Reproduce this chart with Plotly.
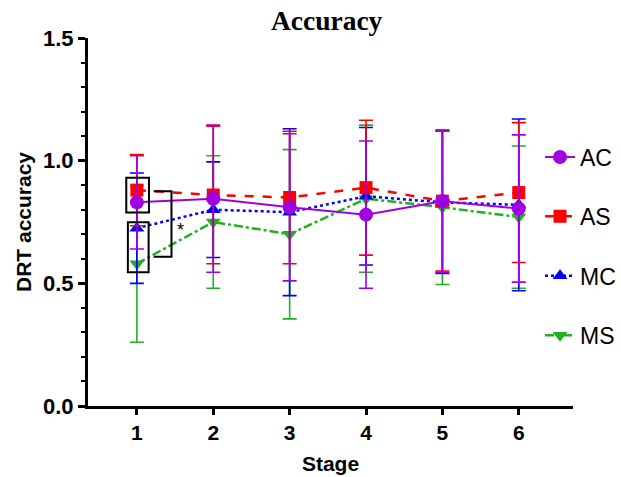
import plotly.graph_objects as go

stages = [1, 2, 3, 4, 5, 6]
series_names = ["AC", "AS", "MC", "MS"]
ac_mean = [0.83, 0.845, 0.81, 0.78, 0.835, 0.805]
ac_sd = [0.19, 0.30, 0.30, 0.30, 0.29, 0.30]
as_mean = [0.88, 0.86, 0.85, 0.89, 0.835, 0.87]
as_sd = [0.145, 0.28, 0.27, 0.275, 0.285, 0.285]
mc_mean = [0.725, 0.80, 0.79, 0.855, 0.83, 0.82]
mc_sd = [0.225, 0.195, 0.34, 0.28, 0.29, 0.35]
ms_mean = [0.58, 0.75, 0.70, 0.845, 0.81, 0.77]
ms_sd = [0.32, 0.27, 0.345, 0.30, 0.315, 0.29]
y_ticks = [0.0, 0.5, 1.0, 1.5]
y_tick_labels = ["0.0", "0.5", "1.0", "1.5"]

styles = {
    "AC": dict(color="#A000E0", dash="solid", symbol="circle", size=14, width=2, rank=1),
    "AS": dict(color="#FF0000", dash="dash", symbol="square", size=13, width=2.5, rank=2),
    "MC": dict(color="#0000FF", dash="dot", symbol="triangle-up", size=13, width=2.5, rank=3),
    "MS": dict(color="#22B022", dash="dashdot", symbol="triangle-down", size=13, width=2.5, rank=4),
}
data = {"AC": (ac_mean, ac_sd), "AS": (as_mean, as_sd),
        "MC": (mc_mean, mc_sd), "MS": (ms_mean, ms_sd)}

fig = go.Figure()
for name in ["MS", "MC", "AS", "AC"]:
    m, s = data[name]
    st = styles[name]
    fig.add_trace(go.Scatter(
        x=stages, y=m, name=name, mode="lines+markers",
        legendgroup=name, legendrank=st["rank"],
        line=dict(color=st["color"], dash=st["dash"], width=st["width"]),
        marker=dict(color=st["color"], symbol=st["symbol"], size=st["size"]),
        error_y=dict(type="data", array=s, visible=True, color=st["color"],
                     thickness=1.6, width=7),
    ))

# boxes and bracket highlighting stage 1 comparison
fig.add_shape(type="rect", x0=0.861, x1=1.158, y0=0.789, y1=0.930,
              line=dict(color="black", width=2))
fig.add_shape(type="rect", x0=0.882, x1=1.154, y0=0.545, y1=0.749,
              line=dict(color="black", width=2))
fig.add_shape(type="path", path="M 1.22 0.875 L 1.453 0.875 L 1.453 0.608 L 1.22 0.608",
              line=dict(color="black", width=2))
fig.add_annotation(x=1.571, y=0.735, text="*", showarrow=False,
                   font=dict(family="Arial", size=18, color="black"), yshift=-4)

fig.update_layout(
    width=621, height=477,
    margin=dict(l=88, r=48, t=38, b=71, autoexpand=False),
    paper_bgcolor="white", plot_bgcolor="white",
    title=dict(text="<b>Accuracy</b>", x=0.526, xanchor="center", y=0.957, yanchor="middle",
               font=dict(family="Liberation Serif", size=27.5, color="black")),
    showlegend=True,
    legend=dict(x=0.932, y=0.735, xanchor="left", yanchor="top",
                font=dict(family="Arial", size=23, color="black"),
                bgcolor="rgba(0,0,0,0)", tracegroupgap=26.5, itemwidth=30),
    font=dict(family="Arial", color="black"),
)
fig.update_xaxes(
    range=[0.36, 6.71], tickvals=stages, ticktext=["<b>%d</b>" % s for s in stages],
    showgrid=False, zeroline=False, showline=True, linecolor="black", linewidth=3,
    ticks="outside", ticklen=6, tickwidth=2.5, tickcolor="black", automargin=False,
    tickfont=dict(family="Arial", size=21, color="black"),
    title=dict(text="<b>Stage</b>", font=dict(family="Arial", size=21, color="black"), standoff=14),
)
fig.update_yaxes(
    range=[0, 1.5], tickvals=y_ticks, ticktext=["<b>%s</b>" % t for t in y_tick_labels],
    showgrid=False, zeroline=False, showline=True, linecolor="black", linewidth=3,
    ticks="outside", ticklen=7, tickwidth=2.5, tickcolor="black", automargin=False,
    minor=dict(dtick=0.1, tick0=0, ticks="outside", ticklen=4, tickwidth=2, tickcolor="black"),
    tickfont=dict(family="Arial", size=22, color="black"),
    title=dict(text="<b>DRT accuracy</b>", font=dict(family="Arial", size=21, color="black"), standoff=6),
)

fig.write_html("out.html", config={"displayModeBar": False},
               post_script="document.body.style.margin='0';")
